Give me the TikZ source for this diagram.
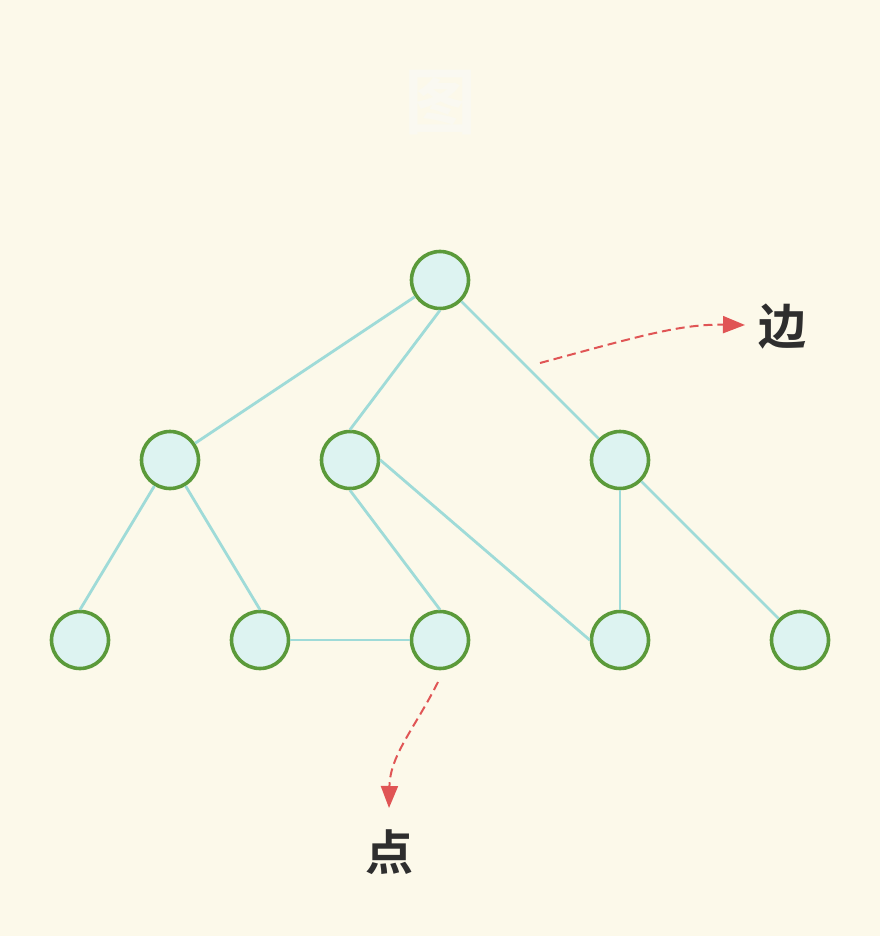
\documentclass[tikz,border=0pt]{standalone}
\usepackage{fontspec}
\newfontfamily\cjk{Noto Sans CJK SC}[BoldFont={Noto Sans CJK SC Bold}]
\usetikzlibrary{arrows.meta}
\definecolor{paper}{HTML}{FCF9EA}
\definecolor{ring}{HTML}{5B9A3A}
\definecolor{cell}{HTML}{DDF3F1}
\definecolor{link}{HTML}{9FDBD8}
\definecolor{pointer}{HTML}{E05555}
\definecolor{ink}{HTML}{2E2E2E}
\definecolor{ghost}{HTML}{FAF9F1}
\begin{document}
\begin{tikzpicture}[x=1pt, y=-1pt,
  vert/.style={circle, draw=ring, fill=cell, line width=3.6pt, minimum size=57pt, inner sep=0pt},
  edge/.style={draw=link, line width=2.8pt},
  hint/.style={draw=pointer, line width=2pt, dash pattern=on 9pt off 5pt, -{Triangle[length=22pt, width=17pt, fill=pointer]}},
  word/.style={font=\cjk\bfseries\fontsize{48}{48}\selectfont, text=ink}]

%% background and frame
 \fill[paper] (0,0) rectangle (880,936);

%% faint title
 \node[font=\cjk\bfseries\fontsize{72}{72}\selectfont, text=ghost] (title) at (440,103) {图};

%% vertices
 \foreach \name/\x/\y in {r/440/280, a/170/460, b/350/460, c/620/460,
   d/80/640, e/260/640, f/440/640, g/620/640, h/800/640}
  {
    \node[vert] (\name) at (\x,\y) {};
  }

%% edges
 \foreach \s/\t in {r/a, r.south/b.north, r/c, a/d.north, a/e.north, b.south/f.north, b.east/g.west, c/g, c/h, e/f}
  {
    \draw[edge] (\s) -- (\t);
  }

%% labels
 \node[word] (bian) at (782,327) {边};
 \node[word] (dian) at (389,852) {点};

 \coordinate (bianfrom) at (540,363);
 \coordinate (bianto) at (745,325);
 \coordinate (dianfrom) at (438,682);
 \coordinate (dianto) at (389,808);
 \draw[hint] (bianfrom) .. controls (640,336) and (680,324) .. (bianto);
 \draw[hint] (dianfrom) .. controls (415,728) and (390,755) .. (dianto);

\end{tikzpicture}
\end{document}
